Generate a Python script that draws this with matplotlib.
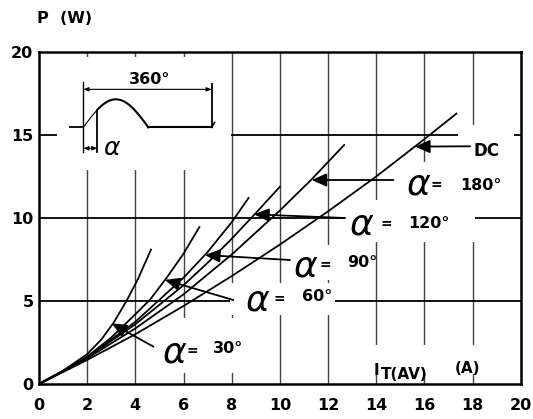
import numpy as np
import matplotlib.pyplot as plt
from matplotlib.patches import Rectangle

# average on-state current I_T(AV) (A) -> power dissipation P (W)
i_30 = [0, 1, 2, 2.6, 3.1, 3.63, 4.1, 4.65]
p_30 = [0, 0.8, 1.8, 2.7, 3.7, 5.0, 6.3, 8.1]

i_60 = [0, 1, 2, 3, 4, 4.62, 5.3, 6, 6.66]
p_60 = [0, 0.75, 1.65, 2.8, 4.2, 5.1, 6.4, 7.85, 9.46]

i_90 = [0, 2, 4, 6, 7, 8, 8.7]
p_90 = [0, 1.6, 3.75, 6.4, 7.95, 9.75, 11.21]

i_120 = [0, 2, 4, 6, 7, 8, 9, 10]
p_120 = [0, 1.6, 3.6, 5.95, 7.3, 8.75, 10.3, 11.88]

i_180 = [0, 2, 4, 6, 8, 10, 11.3, 12.67]
p_180 = [0, 1.55, 3.35, 5.4, 7.8, 10.45, 12.3, 14.4]

i_dc = [0, 2, 4, 6, 8, 10, 12, 14, 16, 17.33]
p_dc = [0, 1.45, 3.0, 4.7, 6.5, 8.4, 10.4, 12.5, 14.75, 16.29]

x_ticks = [0, 2, 4, 6, 8, 10, 12, 14, 16, 18, 20]
y_ticks = [0, 5, 10, 15, 20]

FONT = 'DejaVu Sans'

fig = plt.figure(figsize=(5.33, 4.19), dpi=100)
ax = fig.add_axes([0.0732, 0.0835, 0.9038, 0.7924])
ax.set_xlim(0, 20)
ax.set_ylim(0, 20)

# grid drawn by hand (vertical thin/grey, horizontal black)
for x in x_ticks[1:-1]:
    ax.axvline(x, color='#444444', lw=1.0, zorder=0.5)
for y in y_ticks[1:-1]:
    ax.axhline(y, color='black', lw=1.3, zorder=0.5)

# white patches behind the labels / inset (they break the grid)
boxes = [(0.75, 12.9, 7.95, 19.7),      # inset
         (17.4, 13.4, 19.7, 15.6),      # DC
         (14.99, 11.08, 19.35, 13.37),  # 180
         (12.71, 8.55, 18.11, 11.08),   # 120
         (10.34, 6.27, 13.9, 8.37),     # 90
         (7.93, 4.16, 12.29, 6.08),     # 60
         (4.61, 0.66, 8.76, 3.98),      # 30
         (13.54, 0.6, 18.6, 2.35)]      # axis label
for x0, y0, x1, y1 in boxes:
    ax.add_patch(Rectangle((x0, y0), x1 - x0, y1 - y0, fc='white', ec='none', zorder=1))

for xs, ys in [(i_30, p_30), (i_60, p_60), (i_90, p_90),
               (i_120, p_120), (i_180, p_180), (i_dc, p_dc)]:
    ax.plot(xs, ys, color='black', lw=1.3, zorder=3)

# arrows pointing at the curves
arrow_kw = dict(arrowstyle='-|>,head_length=0.45,head_width=0.2', color='black',
                lw=1.3, shrinkA=0, shrinkB=0, mutation_scale=20)
arrows = [((17.9, 14.32), (15.61, 14.3)),
          ((14.71, 12.29), (11.32, 12.29)),
          ((12.71, 10.0), (8.93, 10.22)),
          ((10.42, 7.47), (6.89, 7.77)),
          ((8.07, 5.06), (5.23, 6.27)),
          ((4.75, 2.25), (3.02, 3.65))]
for tail, tip in arrows:
    ax.annotate('', xy=tip, xytext=tail, arrowprops=arrow_kw, zorder=5)

# labels
txt = dict(family=FONT, weight='bold', ha='center', va='center', zorder=4)
ax.text(18.56, 14.04, 'DC', fontsize=12, **txt)

labels = [((15.78, 11.99), (16.51, 11.96), '180°', (17.48, 11.98)),
          ((13.39, 9.58), (14.41, 9.61), '120°', (15.32, 9.68)),
          ((11.09, 7.07), (11.88, 7.17), '90°', (12.78, 7.3)),
          ((9.07, 5.01), (9.99, 5.15), '60°', (10.91, 5.25)),
          ((5.65, 1.90), (6.37, 1.96), '30°', (7.23, 2.15))]
for a_pos, e_pos, num, n_pos in labels:
    ax.text(*a_pos, 'α', fontsize=26, family='DejaVu Sans', style='italic',
            ha='center', va='center', zorder=4)
    ax.text(*e_pos, '=', fontsize=10, **txt)
    ax.text(*n_pos, num, fontsize=11.5, family=FONT, weight='bold',
            ha='left', va='center', zorder=4)

# x axis label inside the plot
ax.text(14.0, 0.84, 'I', fontsize=11, **txt)
ax.text(14.2, 0.6, 'T(AV)', fontsize=11, family=FONT, weight='bold',
        ha='left', va='center', zorder=4)
ax.text(17.8, 0.96, '(A)', fontsize=11, **txt)

# inset: phase-controlled half sine wave
base = 15.46
x0w, x1w, xa, xr = 1.84, 4.54, 2.42, 7.17
xs = np.linspace(x0w, x1w, 60)
ys = base + 1.69 * np.sin(np.pi * (xs - x0w) / (x1w - x0w))
ax.plot([1.29, x0w], [base, base], color='black', lw=1.3, zorder=3)
ax.plot(xs[xs <= xa], ys[xs <= xa], color='black', lw=0.8, zorder=3)
ax.plot(xs[xs >= xa], ys[xs >= xa], color='black', lw=1.5, zorder=3)
ax.plot([x1w, xr], [base, base], color='black', lw=1.5, zorder=3)
ax.plot([xr, xr + 0.12], [base, base + 0.3], color='black', lw=1.2, zorder=3)
ya = base + 1.69 * np.sin(np.pi * (xa - x0w) / (x1w - x0w))
ax.plot([x0w, x0w], [18.2, 14.0], color='black', lw=1.0, zorder=3)
ax.plot([xa, xa], [ya, 14.0], color='black', lw=1.3, zorder=3)
ax.plot([xr, xr], [18.1, base], color='black', lw=1.3, zorder=3)
dim_kw = dict(arrowstyle='<|-|>,head_length=0.3,head_width=0.12', color='black',
              lw=0.8, shrinkA=0, shrinkB=0, mutation_scale=10)
ax.annotate('', xy=(x0w, 17.75), xytext=(xr, 17.75), arrowprops=dim_kw, zorder=3)
ax.annotate('', xy=(x0w, 14.2), xytext=(xa, 14.2), arrowprops=dim_kw, zorder=3)
ax.text(4.61, 18.35, '360°', fontsize=11.5, **txt)
ax.text(3.02, 14.2, 'α', fontsize=18, family='DejaVu Sans', style='italic',
        ha='center', va='center', zorder=4)

ax.set_xticks(x_ticks)
ax.set_yticks(y_ticks)
ax.set_xticklabels([str(v) for v in x_ticks], family=FONT, weight='bold', fontsize=11.5)
ax.set_yticklabels([str(v) for v in y_ticks], family=FONT, weight='bold', fontsize=11.5)
ax.tick_params(axis='x', length=0, pad=10)
ax.tick_params(axis='y', length=0, pad=4)
for s in ax.spines.values():
    s.set_linewidth(1.8)
    s.set_zorder(6)

fig.text(36.7 / 533, 1 - 18.3 / 419, 'P  (W)', family=FONT, weight='bold',
         fontsize=11.5, ha='left', va='center')

fig.savefig('out.png', dpi=100)
